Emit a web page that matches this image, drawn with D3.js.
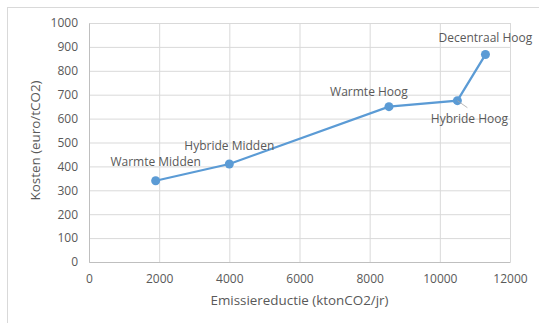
<!DOCTYPE html>
<html>
<head>
<meta charset="utf-8">
<script src="https://cdn.jsdelivr.net/npm/d3@7"></script>
<style>
  body { margin: 0; background: #fff; }
  text { font-family: "Open Sans", sans-serif; fill: #595959; }
</style>
</head>
<body>
<div id="chart"></div>
<script>
// data
var labels = ["Warmte Midden", "Hybride Midden", "Warmte Hoog", "Hybride Hoog", "Decentraal Hoog"];
var reductie = [1900, 4000, 8550, 10500, 11300];
var kosten = [340, 410, 650, 675, 868];
var xTicks = [0, 2000, 4000, 6000, 8000, 10000, 12000];
var yTicks = [0, 100, 200, 300, 400, 500, 600, 700, 800, 900, 1000];

var W = 539, H = 323;
var margin = {top: 23, right: 29, bottom: 61, left: 89},
    width = W - margin.left - margin.right,
    height = H - margin.top - margin.bottom;

var root = d3.select("#chart").append("svg")
  .attr("width", W).attr("height", H);

// outer chart border
root.append("rect")
  .attr("x", 7.5).attr("y", 7.5)
  .attr("width", W).attr("height", H)
  .attr("fill", "none").attr("stroke", "#d9d9d9");

var svg = root.append("g")
  .attr("transform", "translate(" + margin.left + "," + margin.top + ")");

var x = d3.scaleLinear().domain([0, 12000]).range([0, width]);
var y = d3.scaleLinear().domain([0, 1000]).range([height, 0]);

// gridlines
svg.append("g")
  .call(d3.axisLeft(y).tickValues(yTicks).tickSize(-width).tickFormat(""))
  .call(function(g) {
    g.select(".domain").remove();
    g.selectAll("line").attr("stroke", "#d9d9d9");
  });
svg.append("g")
  .attr("transform", "translate(0," + height + ")")
  .call(d3.axisBottom(x).tickValues(xTicks).tickSize(-height).tickFormat(""))
  .call(function(g) {
    g.select(".domain").remove();
    g.selectAll("line").attr("stroke", "#d9d9d9");
  });

// axes
var yAxis = svg.append("g")
  .call(d3.axisLeft(y).tickValues(yTicks).tickSize(0).tickPadding(11).tickFormat(d3.format("d")));
yAxis.select(".domain").attr("stroke", "#bfbfbf");
var xAxis = svg.append("g")
  .attr("transform", "translate(0," + height + ")")
  .call(d3.axisBottom(x).tickValues(xTicks).tickSize(0).tickPadding(12).tickFormat(d3.format("d")));
xAxis.select(".domain").attr("stroke", "#bfbfbf");
svg.selectAll(".tick text")
  .style("font-family", "Open Sans, sans-serif")
  .style("font-size", "12px")
  .attr("fill", "#595959");

// axis titles
svg.append("text")
  .attr("x", width / 2).attr("y", height + 43)
  .style("text-anchor", "middle")
  .style("font-size", "13.4px")
  .text("Emissiereductie (ktonCO2/jr)");
svg.append("text")
  .attr("transform", "rotate(-90)")
  .attr("x", -height / 2 + 2).attr("y", -49)
  .style("text-anchor", "middle")
  .style("font-size", "13.4px")
  .text("Kosten (euro/tCO2)");

var pts = labels.map(function(l, i) { return {label: l, x: reductie[i], y: kosten[i]}; });

svg.append("path")
  .datum(pts)
  .attr("fill", "none")
  .attr("stroke", "#5b9bd5")
  .attr("stroke-width", 2.25)
  .attr("d", d3.line().x(function(d) { return x(d.x); }).y(function(d) { return y(d.y); }));

svg.selectAll("circle")
  .data(pts)
  .enter().append("circle")
  .attr("cx", function(d) { return x(d.x); })
  .attr("cy", function(d) { return y(d.y); })
  .attr("r", 4.5)
  .attr("fill", "#5b9bd5");

// data labels (offset from each point in px)
var offsets = [[0, -19], [0, -18], [-20, -15], [12, 18], [0, -17]];
// leader line for Hybride Hoog
svg.append("line")
  .attr("x1", x(reductie[3])).attr("y1", y(kosten[3]))
  .attr("x2", x(reductie[3]) + 10).attr("y2", y(kosten[3]) + 7)
  .attr("stroke", "#a6a6a6").attr("stroke-width", 0.8);

svg.selectAll(".lbl")
  .data(pts)
  .enter().append("text")
  .attr("class", "lbl")
  .attr("x", function(d, i) { return x(d.x) + offsets[i][0]; })
  .attr("y", function(d, i) { return y(d.y) + offsets[i][1]; })
  .attr("dy", "0.35em")
  .style("text-anchor", "middle")
  .style("font-size", "12px")
  .text(function(d) { return d.label; });
</script>
</body>
</html>
